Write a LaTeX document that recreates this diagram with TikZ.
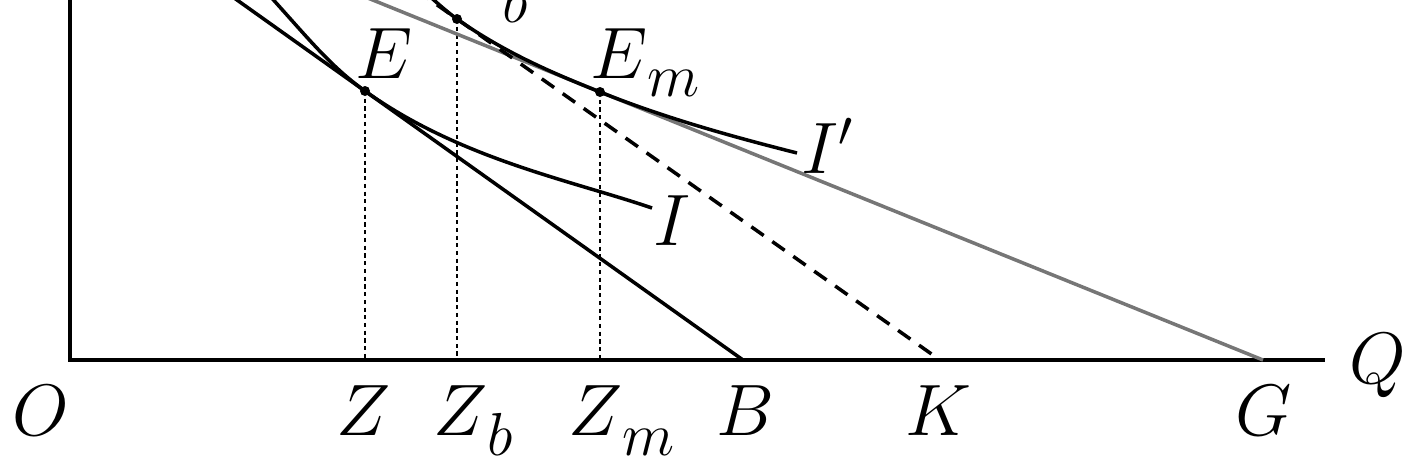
\documentclass[tikz,border=0pt]{standalone}
\definecolor{figGr}{RGB}{118,118,118}
\newcommand{\subl}[3][0.18cm]{$#2$\raisebox{-#1}{\fontsize{18}{20}\selectfont$#3$}}

\begin{document}
\begin{tikzpicture}[lbl/.style={font=\fontsize{20.5}{24}\selectfont,inner sep=0pt},
  dot/.style={circle,fill,inner sep=0pt,minimum size=0.1cm},
  drop/.style={dash pattern=on 1.2pt off 1pt,line width=0.45pt},
  crv/.style={line width=1pt}]
\useasboundingbox (-0.70,-1.04) rectangle (13.34,3.60);
\clip (-0.70,-1.04) rectangle (13.34,3.60);
% tangency points and their feet
\coordinate (E) at (2.95,2.69); \coordinate (Eb) at (3.87,3.41); \coordinate (Em) at (5.30,2.68);
\coordinate (Z) at (2.95,0); \coordinate (Zb) at (3.87,0); \coordinate (Zm) at (5.30,0);
\coordinate (B) at (6.73,0); \coordinate (K) at (8.70,0); \coordinate (G) at (11.93,0);
\coordinate (Bt) at (1.53,3.70); \coordinate (Kt) at (3.46,3.70); \coordinate (Gt) at (2.78,3.70);
\coordinate (O) at (0,0); \coordinate (Ytop) at (0,3.80); \coordinate (Xend) at (12.55,0);
\draw[line width=1.1pt] (Ytop) -- (O) -- (Xend);
\draw[drop] (E) -- (Z); \draw[drop] (Eb) -- (Zb); \draw[drop] (Em) -- (Zm);
\draw[crv,figGr] (Gt) -- (G);
\draw[crv,dash pattern=on 4.3pt off 3pt] (Kt) -- (K);
\draw[crv] (Bt) -- (B);
% indifference curves
\draw[crv] (1.99,3.65) .. controls (2.38,3.22) and (2.60,2.94) .. (E)
  .. controls (3.9,2.01) and (5.0,1.80) .. (5.82,1.52);
\draw[crv] (3.55,3.68) .. controls (3.67,3.57) and (3.78,3.474) .. (Eb)
  .. controls (4.35,3.07) and (4.85,2.86) .. (Em)
  .. controls (5.95,2.42) and (6.6,2.24) .. (7.27,2.07);
\node[dot] (dE) at (E) {}; \node[dot] (dEb) at (Eb) {}; \node[dot] (dEm) at (Em) {};
% labels
\node[lbl,anchor=base west] (lE) at (2.85,2.82) {$E$};
\node[lbl,anchor=base west] (lEb) at (3.75,3.62) {\subl[0.24cm]{E}{b}};
\node[lbl,anchor=base west] (lEm) at (5.20,2.82) {\subl{E}{m}};
\node[lbl] (lI) at (6.02,1.39) {$I$};
\node[lbl] (lIp) at (7.58,2.14) {$I'$};
\node[lbl,anchor=base] (lO) at (-0.29,-0.75) {$O$};
\node[lbl,anchor=base] (lZ) at (2.94,-0.75) {$Z$};
\node[lbl,anchor=base west] (lZb) at (3.63,-0.75) {\subl[0.2cm]{Z}{b}};
\node[lbl,anchor=base west] (lZm) at (4.98,-0.75) {\subl[0.2cm]{Z}{m}};
\node[lbl,anchor=base] (lB) at (6.75,-0.75) {$B$};
\node[lbl,anchor=base] (lK) at (8.68,-0.75) {$K$};
\node[lbl,anchor=base] (lG) at (11.94,-0.75) {$G$};
\node[lbl,anchor=base] (lQ) at (13.08,-0.23) {$Q$};
\end{tikzpicture}
\end{document}
